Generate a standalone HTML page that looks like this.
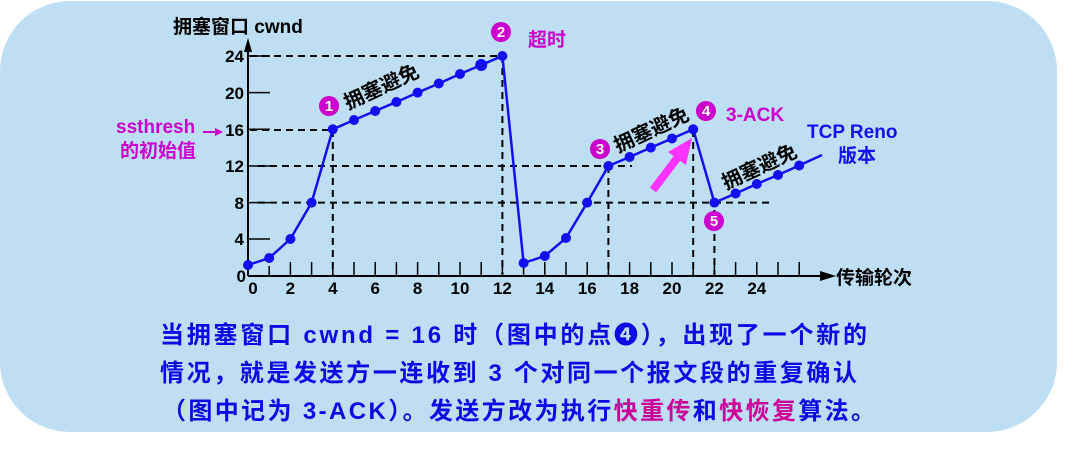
<!DOCTYPE html>
<html><head><meta charset="utf-8"><style>
html,body{margin:0;padding:0;background:#fff;}
svg{display:block;}
text{font-family:"Liberation Sans","Noto Sans CJK SC",sans-serif;font-weight:bold;}
</style></head><body>
<svg width="1089" height="452" viewBox="0 0 1089 452" xmlns="http://www.w3.org/2000/svg">
<rect x="0" y="1" width="1057" height="431" rx="70" ry="70" fill="#bedef3"/>
<g stroke="#000" stroke-width="2" stroke-dasharray="7,5" fill="none">
<line x1="250" y1="56" x2="502" y2="56"/>
<line x1="250" y1="130" x2="332" y2="130"/>
<line x1="258" y1="166" x2="632" y2="166"/>
<line x1="258" y1="202.6" x2="772" y2="202.6"/>
<line x1="332.8" y1="130" x2="332.8" y2="276"/>
<line x1="502.4" y1="56" x2="502.4" y2="276"/>
<line x1="608.4" y1="166" x2="608.4" y2="276"/>
<line x1="693.2" y1="130" x2="693.2" y2="276"/>
<line x1="714.4" y1="210" x2="714.4" y2="276"/>
</g>
<g stroke="#000" stroke-width="1.5">
<line x1="248" y1="276" x2="822" y2="276" stroke-width="2"/>
<line x1="248" y1="276" x2="248" y2="48" stroke-width="2"/>
<line x1="248" y1="239" x2="270" y2="239"/><line x1="248" y1="202.6" x2="270" y2="202.6"/>
<line x1="248" y1="166" x2="270" y2="166"/><line x1="248" y1="129.3" x2="270" y2="129.3"/>
<line x1="248" y1="92.6" x2="270" y2="92.6"/><line x1="248" y1="56" x2="270" y2="56"/>
<path d="M269.2 276v-10M290.4 276v-14M311.6 276v-14M332.8 276v-14M354 276v-14M375.2 276v-14M396.4 276v-14M417.6 276v-14M438.8 276v-14M460 276v-14M481.2 276v-14M502.4 276v-14M523.6 276v-14M544.8 276v-14M566 276v-14M587.2 276v-14M608.4 276v-14M629.6 276v-14M650.8 276v-14M672 276v-14M693.2 276v-14M714.4 276v-14M735.6 276v-14M756.8 276v-14M778 276v-14M799.2 276v-14"/>
</g>
<polygon points="248,38 244,52 252,52" fill="#000"/>
<polygon points="836,276 820,271 820,281" fill="#000"/>
<polyline fill="none" stroke="#1010f0" stroke-width="2.5" points="248,265 269.2,258 290.4,239 311.6,202.6 332.8,129.3 354,120 375.2,111 396.4,102 417.6,92.6 438.8,83.5 460,74 481.2,65 502.4,56 523.6,263 544.8,256 566,238 587.2,202.6 608.4,166 629.6,157 650.8,147.6 672,138.5 693.2,129.3 714.4,202.6 735.6,193.5 756.8,184 778,175 799.2,165.5 822,155"/>
<g fill="#1010f0">
<circle cx="248" cy="265" r="5"/><circle cx="269.2" cy="258" r="5"/><circle cx="290.4" cy="239" r="5"/><circle cx="311.6" cy="202.6" r="5"/><circle cx="332.8" cy="129.3" r="5"/><circle cx="354" cy="120" r="5"/><circle cx="375.2" cy="111" r="5"/><circle cx="396.4" cy="102" r="5"/><circle cx="417.6" cy="92.6" r="5"/><circle cx="438.8" cy="83.5" r="5"/><circle cx="460" cy="74" r="5"/><circle cx="481.2" cy="65" r="6"/><circle cx="502.4" cy="56" r="5"/><circle cx="523.6" cy="263" r="5"/><circle cx="544.8" cy="256" r="5"/><circle cx="566" cy="238" r="5"/><circle cx="587.2" cy="202.6" r="5"/><circle cx="608.4" cy="166" r="5"/><circle cx="629.6" cy="157" r="5"/><circle cx="650.8" cy="147.6" r="5"/><circle cx="672" cy="138.5" r="5"/><circle cx="693.2" cy="129.3" r="5"/><circle cx="714.4" cy="202.6" r="5"/><circle cx="735.6" cy="193.5" r="5"/><circle cx="756.8" cy="184" r="5"/><circle cx="778" cy="175" r="5"/><circle cx="799.2" cy="165.5" r="5"/>
</g>
<g font-size="17" fill="#000" text-anchor="middle">
<text x="253" y="294">0</text><text x="290.4" y="294">2</text><text x="332.8" y="294">4</text><text x="375.2" y="294">6</text><text x="417.6" y="294">8</text><text x="460" y="294">10</text><text x="502.4" y="294">12</text><text x="544.8" y="294">14</text><text x="587.2" y="294">16</text><text x="629.6" y="294">18</text><text x="672" y="294">20</text><text x="714.4" y="294">22</text><text x="756.8" y="294">24</text>
</g>
<g font-size="17" fill="#000" text-anchor="end">
<text x="246" y="282">0</text><text x="244" y="245">4</text><text x="244" y="209">8</text><text x="244" y="172">12</text><text x="244" y="136">16</text><text x="244" y="99">20</text><text x="244" y="62">24</text>
</g>
<text x="173" y="33" font-size="19" fill="#000">拥塞窗口  cwnd</text>
<text x="836" y="284" font-size="19" fill="#000">传输轮次</text>
<text x="116" y="133" font-size="19" fill="#cc00cc">ssthresh</text>
<text x="120" y="157" font-size="19" fill="#cc00cc">的初始值</text>
<line x1="203" y1="132" x2="217" y2="132" stroke="#cc00cc" stroke-width="2"/>
<polygon points="223,132 215,128 215,136" fill="#cc00cc"/>
<text x="807" y="138" font-size="19" fill="#1010f0">TCP Reno</text>
<text x="838" y="162" font-size="19" fill="#1010f0">版本</text>
<g fill="#cc00cc">
<circle cx="329" cy="106" r="10"/><circle cx="501" cy="32" r="10"/><circle cx="600" cy="149" r="10"/><circle cx="706" cy="111" r="10"/><circle cx="714" cy="221" r="10"/>
</g>
<g fill="#fff" font-size="15" text-anchor="middle">
<text x="329" y="111">1</text><text x="501" y="37">2</text><text x="600" y="154">3</text><text x="706" y="116">4</text><text x="714" y="226">5</text>
</g>
<text x="528" y="46" font-size="19" fill="#cc00cc">超时</text>
<text x="726" y="121" font-size="19" fill="#cc00cc">3-ACK</text>
<text x="0" y="0" font-size="20" fill="#000" transform="translate(348,110) rotate(-25)">拥塞避免</text>
<text x="0" y="0" font-size="20" fill="#000" transform="translate(618,153) rotate(-25)">拥塞避免</text>
<text x="0" y="0" font-size="20" fill="#000" transform="translate(726,190) rotate(-25)">拥塞避免</text>
<line x1="653" y1="190" x2="678" y2="157" stroke="#ff33ff" stroke-width="8"/>
<polygon points="692,138 668,152 686,165" fill="#ff33ff"/>
<text x="160" y="343" font-size="24" fill="#0a0ae6" textLength="707">当拥塞窗口 cwnd = 16 时（图中的点❹），出现了一个新的</text>
<text x="160" y="381" font-size="24" fill="#0a0ae6" textLength="697">情况，就是发送方一连收到 3 个对同一个报文段的重复确认</text>
<text x="162" y="419" font-size="24" fill="#0a0ae6" textLength="713">（图中记为 3-ACK）。发送方改为执行<tspan fill="#cc0099">快重传</tspan>和<tspan fill="#cc0099">快恢复</tspan>算法。</text>
</svg>
</body></html>
